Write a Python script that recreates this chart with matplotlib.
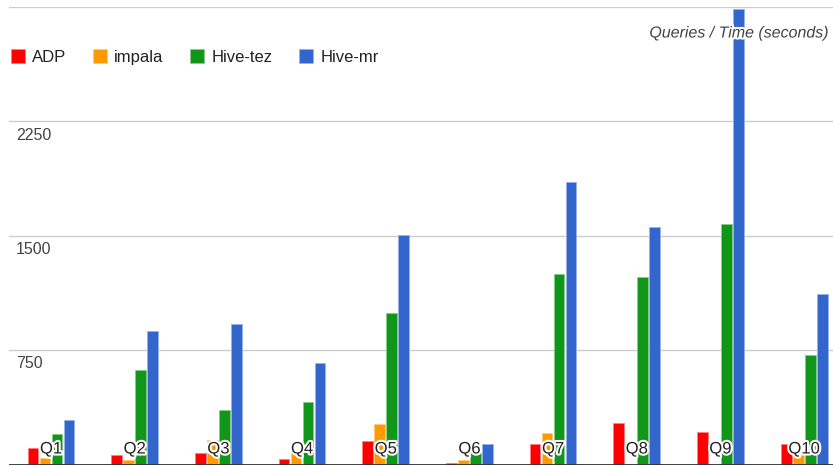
import numpy as np
import matplotlib
matplotlib.use("Agg")
import matplotlib.pyplot as plt
import matplotlib.patheffects as pe
from matplotlib import transforms

plt.rcParams['font.family'] = ['Liberation Sans', 'DejaVu Sans']

queries = ['Q1', 'Q2', 'Q3', 'Q4', 'Q5', 'Q6', 'Q7', 'Q8', 'Q9', 'Q10']
series = ['ADP', 'impala', 'Hive-tez', 'Hive-mr']
adp = [106, 62, 73, 36, 152, 12, 134, 274, 211, 134]
impala = [45, 28, 160, 73, 267, 28, 206, 0, 0, 88]
hive_tez = [198, 619, 357, 407, 990, 73, 1248, 1230, 1575, 715]
hive_mr = [291, 876, 920, 665, 1504, 132, 1849, 1558, 2984, 1115]
y_ticks = [750, 1500, 2250]
colors = ['#ff0000', '#ff9900', '#109618', '#3366cc']
edges = ['#ff8080', '#ffcc80', '#88cb8c', '#99b3e6']

W, H = 833, 466
fig = plt.figure(figsize=(W / 100, H / 100), dpi=100)
# plot area runs a little past the right edge, like the original
ax = fig.add_axes([9.2 / W, 1.5 / H, 836.7 / W, 458 / H])

x = np.arange(len(queries))
step = 0.1434
bw = 0.13
for k, vals in enumerate([adp, impala, hive_tez, hive_mr]):
    ax.bar(x + (k - 1.5) * step, vals, width=bw, color=colors[k],
           edgecolor=edges[k], linewidth=0.6, label=series[k], zorder=3)

ax.set_xlim(-0.5, len(queries) - 0.5)
ax.set_ylim(0, 3000)
for v in [0] + y_ticks + [3000]:
    if v == 0:
        ax.axhline(v, color='#333333', lw=1.3, zorder=5)
    else:
        ax.axhline(v, color='#cccccc', lw=1.0, zorder=1)

ax.set_xticks([])
ax.set_yticks([])
for s in ax.spines.values():
    s.set_visible(False)

# y labels sit inside the plot, just under each gridline
ylab = transforms.blended_transform_factory(ax.transAxes, ax.transData)
for v in y_ticks:
    t = transforms.offset_copy(ylab, fig=fig, x=0, y=-14, units='dots')
    ax.text(6.8 / 836.7, v, str(v), transform=t, ha='left', va='center',
            fontsize=11.5, color='#444444')

# query names drawn over the bars near the baseline
qlab = transforms.blended_transform_factory(ax.transData, ax.transAxes)
qt = transforms.offset_copy(qlab, fig=fig, x=0, y=15.5, units='dots')
for i, q in enumerate(queries):
    ax.text(i, 0, q, transform=qt, ha='center', va='center', fontsize=12,
            color='#222222', zorder=6,
            path_effects=[pe.withStroke(linewidth=3, foreground='white')])

fig.text(829 / W, 1 - 33 / H, 'Queries / Time (seconds)', ha='right',
         va='center', fontsize=11.5, style='italic', color='#444444',
         path_effects=[pe.withStroke(linewidth=3, foreground='white')])

fig.legend(loc='center left', bbox_to_anchor=(10.5 / W, 1 - 57 / H),
           ncol=4, frameon=False, fontsize=12, borderpad=0, borderaxespad=0,
           handlelength=0.85, handleheight=0.85, handletextpad=0.45,
           columnspacing=1.57, labelcolor='#222222')

fig.savefig('out.png', dpi=100)
